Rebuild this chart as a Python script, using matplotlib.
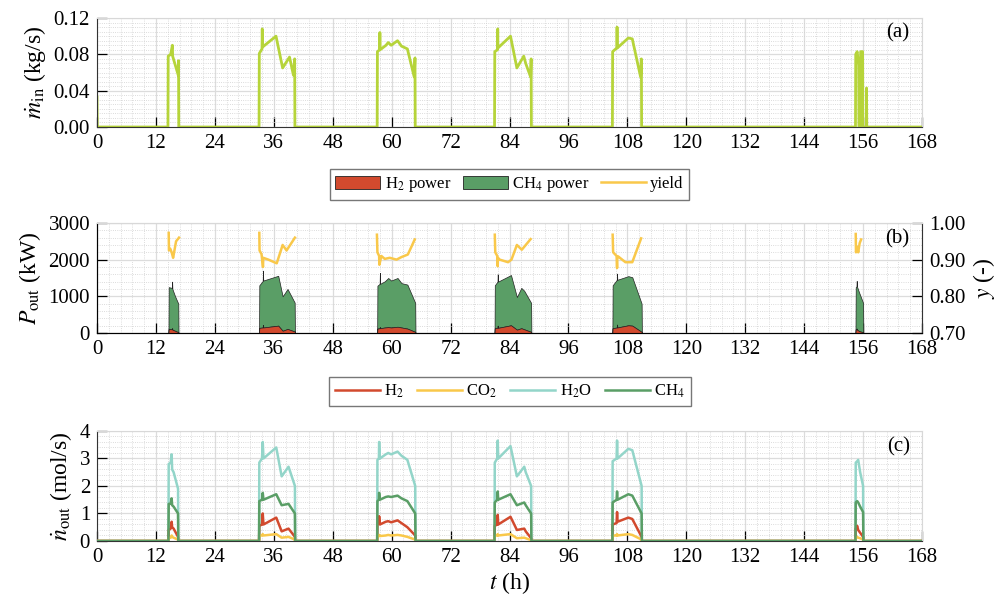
import numpy as np
import matplotlib
matplotlib.use("Agg")
import matplotlib.pyplot as plt
from matplotlib.patches import Patch
from matplotlib.lines import Line2D
from matplotlib.ticker import MultipleLocator, FormatStrFormatter

plt.rcParams['font.family'] = ['Liberation Serif', 'DejaVu Serif']
plt.rcParams['mathtext.fontset'] = 'stix'

# ---- panel (a): inlet mass flow (kg/s)
t_in = [0, 0.05, 14.45, 14.5, 15.0, 15.35, 15.4, 16.55, 16.6, 16.65,
        33.0, 33.05, 33.6, 33.65, 33.7, 36.45, 37.8, 39.2, 40.0, 40.25, 40.3,
        57.05, 57.1, 57.55, 57.6, 57.65, 58.85, 59.3, 59.9, 61.2, 62.0, 63.2, 64.6, 64.75, 64.8,
        80.95, 81.0, 81.55, 81.6, 81.65, 84.2, 85.5, 86.9, 87.3, 88.3, 88.4, 88.45,
        104.95, 105.0, 105.85, 105.9, 105.95, 108.2, 109.0, 110.7, 110.85, 110.9,
        154.45, 154.5, 154.8, 155.1, 155.15, 155.45, 155.5, 155.9, 155.95,
        156.65, 156.7, 156.75, 168]
m_in = [0.033, 0, 0, 0.078, 0.080, 0.090, 0.078, 0.057, 0.073, 0,
        0, 0.081, 0.086, 0.108, 0.088, 0.100, 0.065, 0.077, 0.057, 0.075, 0,
        0, 0.083, 0.085, 0.104, 0.085, 0.090, 0.093, 0.090, 0.095, 0.089, 0.086, 0.055, 0.076, 0,
        0, 0.083, 0.085, 0.108, 0.087, 0.100, 0.065, 0.078, 0.070, 0.055, 0.075, 0,
        0, 0.083, 0.087, 0.110, 0.087, 0.098, 0.097, 0.055, 0.075, 0,
        0, 0.080, 0.083, 0.068, 0, 0, 0.083, 0.083, 0,
        0, 0.043, 0, 0]

# ---- panel (b): output power (kW) and yield (-)
t_p = [0, 14.55, 14.6, 15.25, 15.3, 15.35, 15.9, 16.55, 16.6,
       33.0, 33.05, 33.75, 33.8, 33.85, 36.9, 37.8, 38.8, 40.25, 40.3,
       57.05, 57.1, 57.55, 57.6, 57.65, 58.6, 59.3, 59.9, 61.2, 62.0, 63.2, 64.8, 64.85,
       80.95, 81.0, 81.55, 81.6, 81.65, 84.3, 85.5, 86.4, 87.0, 88.4, 88.45,
       104.95, 105.0, 105.85, 105.9, 105.95, 108.2, 109.0, 110.9, 110.95,
       154.45, 154.5, 154.65, 154.7, 154.75, 155.2, 156.0, 156.05, 168]
p_h2 = [0, 0, 110, 100, 130, 90, 60, 20, 0,
        0, 140, 150, 220, 150, 200, 60, 110, 40, 0,
        0, 120, 130, 160, 130, 150, 160, 150, 170, 150, 120, 30, 0,
        0, 130, 140, 200, 140, 210, 90, 130, 100, 30, 0,
        0, 130, 150, 230, 150, 210, 200, 30, 0,
        0, 100, 100, 120, 90, 50, 20, 0, 0]
p_ch4 = [0, 0, 1140, 1130, 1270, 1110, 940, 780, 0,
         0, 1160, 1270, 1480, 1280, 1360, 940, 1090, 790, 0,
         0, 1170, 1210, 1480, 1210, 1260, 1340, 1280, 1330, 1210, 1200, 790, 0,
         0, 1170, 1260, 1400, 1260, 1370, 890, 1100, 1050, 790, 0,
         0, 1170, 1300, 1390, 1300, 1340, 1320, 770, 0,
         0, 1150, 1170, 1300, 1180, 1050, 800, 0, 0]

t_y = [14.6, 14.65, 14.9, 15.2, 15.5, 16.1, 16.7, np.nan,
       33.05, 33.1, 33.5, 33.8, 33.85, 34.9, 36.6, 37.8, 38.6, 40.3, np.nan,
       57.0, 57.1, 57.45, 57.5, 57.9, 58.6, 59.6, 61.0, 62.0, 63.3, 64.7, np.nan,
       81.0, 81.1, 81.5, 81.6, 81.65, 82.0, 83.7, 84.4, 85.5, 86.5, 88.3, np.nan,
       105.0, 105.1, 105.8, 105.9, 105.95, 106.1, 107.6, 109.0, 110.8, np.nan,
       154.5, 154.55, 154.8, 155.0, 155.3, 155.6]
yld = [0.973, 0.925, 0.930, 0.920, 0.905, 0.950, 0.960, np.nan,
       0.973, 0.925, 0.915, 0.880, 0.905, 0.900, 0.890, 0.940, 0.925, 0.960, np.nan,
       0.968, 0.920, 0.910, 0.886, 0.910, 0.902, 0.905, 0.900, 0.907, 0.914, 0.955, np.nan,
       0.968, 0.920, 0.910, 0.882, 0.905, 0.900, 0.893, 0.900, 0.940, 0.927, 0.956, np.nan,
       0.968, 0.920, 0.910, 0.877, 0.905, 0.909, 0.893, 0.893, 0.958, np.nan,
       0.970, 0.920, 0.935, 0.920, 0.945, 0.955]

# ---- panel (c): outlet molar flows (mol/s)
t_n = [0, 14.55, 14.6, 15.0, 15.2, 15.3, 15.6, 16.5, 16.55,
       33.0, 33.05, 33.6, 33.75, 33.9, 36.5, 37.6, 39.0, 40.3, 40.35,
       57.05, 57.1, 57.4, 57.45, 57.6, 58.8, 59.3, 59.9, 61.2, 62.0, 63.2, 64.8, 64.85,
       80.95, 81.0, 81.5, 81.6, 81.7, 84.2, 85.5, 87.0, 87.3, 88.4, 88.45,
       104.95, 105.0, 105.8, 105.9, 106.0, 108.2, 109.0, 110.9, 110.95,
       154.45, 154.5, 154.8, 155.0, 155.4, 156.0, 156.05, 168]
n_h2o = [0, 0, 2.8, 2.85, 3.15, 2.6, 2.5, 1.9, 0,
         0, 2.85, 3.0, 3.6, 3.0, 3.4, 2.35, 2.7, 2.0, 0,
         0, 2.95, 3.0, 3.6, 3.0, 3.15, 3.2, 3.15, 3.25, 3.1, 2.95, 2.0, 0,
         0, 2.85, 3.0, 3.65, 3.0, 3.45, 2.35, 2.7, 2.5, 2.0, 0,
         0, 2.9, 3.0, 3.65, 3.0, 3.35, 3.3, 2.0, 0,
         0, 2.85, 2.9, 2.95, 2.5, 2.0, 0, 0]
n_ch4 = [0, 0, 1.35, 1.35, 1.55, 1.3, 1.25, 1.0, 0,
         0, 1.45, 1.5, 1.75, 1.5, 1.7, 1.3, 1.35, 1.0, 0,
         0, 1.45, 1.5, 1.75, 1.5, 1.6, 1.62, 1.6, 1.65, 1.55, 1.45, 1.0, 0,
         0, 1.4, 1.5, 1.8, 1.5, 1.7, 1.3, 1.4, 1.3, 1.0, 0,
         0, 1.4, 1.5, 1.8, 1.5, 1.7, 1.65, 1.0, 0,
         0, 1.4, 1.45, 1.4, 1.25, 1.05, 0, 0]
n_h2 = [0, 0, 0.4, 0.45, 0.7, 0.5, 0.45, 0.15, 0,
        0, 0.55, 0.6, 1.0, 0.6, 0.85, 0.35, 0.45, 0.15, 0,
        0, 0.6, 0.65, 0.9, 0.6, 0.7, 0.72, 0.68, 0.75, 0.65, 0.5, 0.2, 0,
        0, 0.55, 0.6, 0.95, 0.6, 0.88, 0.4, 0.45, 0.35, 0.1, 0,
        0, 0.6, 0.65, 1.05, 0.7, 0.85, 0.8, 0.15, 0,
        0, 0.45, 0.55, 0.4, 0.3, 0.15, 0, 0]
n_co2 = [0, 0, 0.12, 0.12, 0.2, 0.15, 0.12, 0.05, 0,
         0, 0.2, 0.2, 0.25, 0.2, 0.25, 0.12, 0.15, 0.05, 0,
         0, 0.18, 0.18, 0.22, 0.18, 0.2, 0.22, 0.2, 0.22, 0.2, 0.15, 0.05, 0,
         0, 0.2, 0.2, 0.25, 0.2, 0.25, 0.1, 0.12, 0.1, 0.03, 0,
         0, 0.2, 0.2, 0.25, 0.2, 0.25, 0.22, 0.05, 0,
         0, 0.12, 0.15, 0.12, 0.1, 0.05, 0, 0]

x_ticks = np.arange(0, 169, 12)

RED = '#d24a2e'
GREEN = '#5a9e66'
YELLOW = '#f9c84a'
TEAL = '#93d5c9'
LIME = '#b6d43a'


def style(ax, ymin, ymax, ymaj, ymin_step):
    ax.set_xlim(0, 168)
    ax.set_ylim(ymin, ymax)
    ax.set_xticks(x_ticks)
    ax.xaxis.set_minor_locator(MultipleLocator(2.4))
    ax.yaxis.set_major_locator(MultipleLocator(ymaj))
    ax.yaxis.set_minor_locator(MultipleLocator(ymin_step))
    ax.grid(which='major', color='#dcdcdc', lw=0.9, ls='-')
    ax.grid(which='minor', color='#d0d0d0', lw=0.6, ls=':')
    ax.set_axisbelow(True)
    ax.tick_params(which='major', direction='in', length=7, width=0.9,
                   labelsize=15, top=False, right=False, pad=5)
    ax.tick_params(which='minor', length=0)
    for s in ['top', 'right']:
        ax.spines[s].set_color('#d8d8d8')
    for s in ['left', 'bottom']:
        ax.spines[s].set_color('#333333')


fig = plt.figure(figsize=(9.97, 5.96), dpi=100)
L, W = 0.0973, 0.8275
ax1 = fig.add_axes([L, 0.7869, W, 0.1829])
ax2 = fig.add_axes([L, 0.4413, W, 0.1846])
ax3 = fig.add_axes([L, 0.0923, W, 0.1846])

# (a)
style(ax1, 0, 0.12, 0.04, 0.005)
ax1.plot(t_in, m_in, color=LIME, lw=2.0)
ax1.yaxis.set_major_formatter(FormatStrFormatter('%.2f'))
ax1.set_ylabel(r'$\dot{m}_{\mathrm{in}}$ (kg/s)', fontsize=17, labelpad=4)
ax1.text(0.985, 0.86, '(a)', transform=ax1.transAxes, ha='right', va='center', fontsize=15)

# (b)
style(ax2, 0, 3000, 1000, 200)
p_h2_arr = np.array(p_h2)
p_tot = p_h2_arr + np.array(p_ch4)
ax2.fill_between(t_p, 0, p_h2_arr, facecolor=RED, edgecolor='#222222', lw=0.5, zorder=3)
ax2.fill_between(t_p, p_h2_arr, p_tot, facecolor=GREEN, edgecolor='#222222', lw=0.5, zorder=2)
ax2.set_ylabel(r'$P_{\mathrm{out}}$ (kW)', fontsize=17, labelpad=4)
ax2.text(0.985, 0.86, '(b)', transform=ax2.transAxes, ha='right', va='center', fontsize=15)
ax2b = ax2.twinx()
ax2b.set_xlim(0, 168)
ax2b.plot(t_y, yld, color=YELLOW, lw=1.8)
ax2b.set_ylim(0.7, 1.0)
ax2b.yaxis.set_major_locator(MultipleLocator(0.1))
ax2b.yaxis.set_major_formatter(FormatStrFormatter('%.2f'))
ax2b.tick_params(direction='in', length=7, width=0.9, labelsize=15, pad=5)
ax2b.spines['right'].set_color('#333333')
ax2b.spines['top'].set_color('#d8d8d8')
ax2b.set_ylabel(r'$y$ (-)', fontsize=17)

leg_b = [Patch(facecolor=RED, edgecolor='#222222', lw=0.6, label=r'H$_2$ power'),
         Patch(facecolor=GREEN, edgecolor='#222222', lw=0.6, label=r'CH$_4$ power'),
         Line2D([], [], color=YELLOW, lw=1.8, label='yield')]
fig.legend(handles=leg_b, loc='center', bbox_to_anchor=(0.511, 0.690), ncol=3,
           fontsize=12, frameon=True, fancybox=False, edgecolor='#555555',
           handlelength=2.7, handleheight=0.9, columnspacing=0.7, handletextpad=0.25,
           borderpad=0.35, borderaxespad=0)

# (c)
style(ax3, 0, 4, 1, 0.2)
ax3.plot(t_n, n_h2o, color=TEAL, lw=1.8, zorder=3)
ax3.plot(t_n, n_ch4, color=GREEN, lw=1.8, zorder=4)
ax3.plot(t_n, n_h2, color=RED, lw=1.8, zorder=3)
ax3.plot(t_n, n_co2, color=YELLOW, lw=1.8, zorder=3)
ax3.set_ylabel(r'$\dot{n}_{\mathrm{out}}$ (mol/s)', fontsize=17, labelpad=4)
ax3.set_xlabel(r'$t$ (h)', fontsize=17, labelpad=2)
ax3.text(0.985, 0.86, '(c)', transform=ax3.transAxes, ha='right', va='center', fontsize=15)

leg_c = [Line2D([], [], color=RED, lw=1.8, label=r'H$_2$'),
         Line2D([], [], color=YELLOW, lw=1.8, label=r'CO$_2$'),
         Line2D([], [], color=TEAL, lw=1.8, label=r'H$_2$O'),
         Line2D([], [], color=GREEN, lw=1.8, label=r'CH$_4$')]
fig.legend(handles=leg_c, loc='center', bbox_to_anchor=(0.5115, 0.343), ncol=4,
           fontsize=12, frameon=True, fancybox=False, edgecolor='#555555',
           handlelength=2.7, columnspacing=0.8, handletextpad=0.25,
           borderpad=0.35, borderaxespad=0)

fig.savefig('out.png', dpi=100)
